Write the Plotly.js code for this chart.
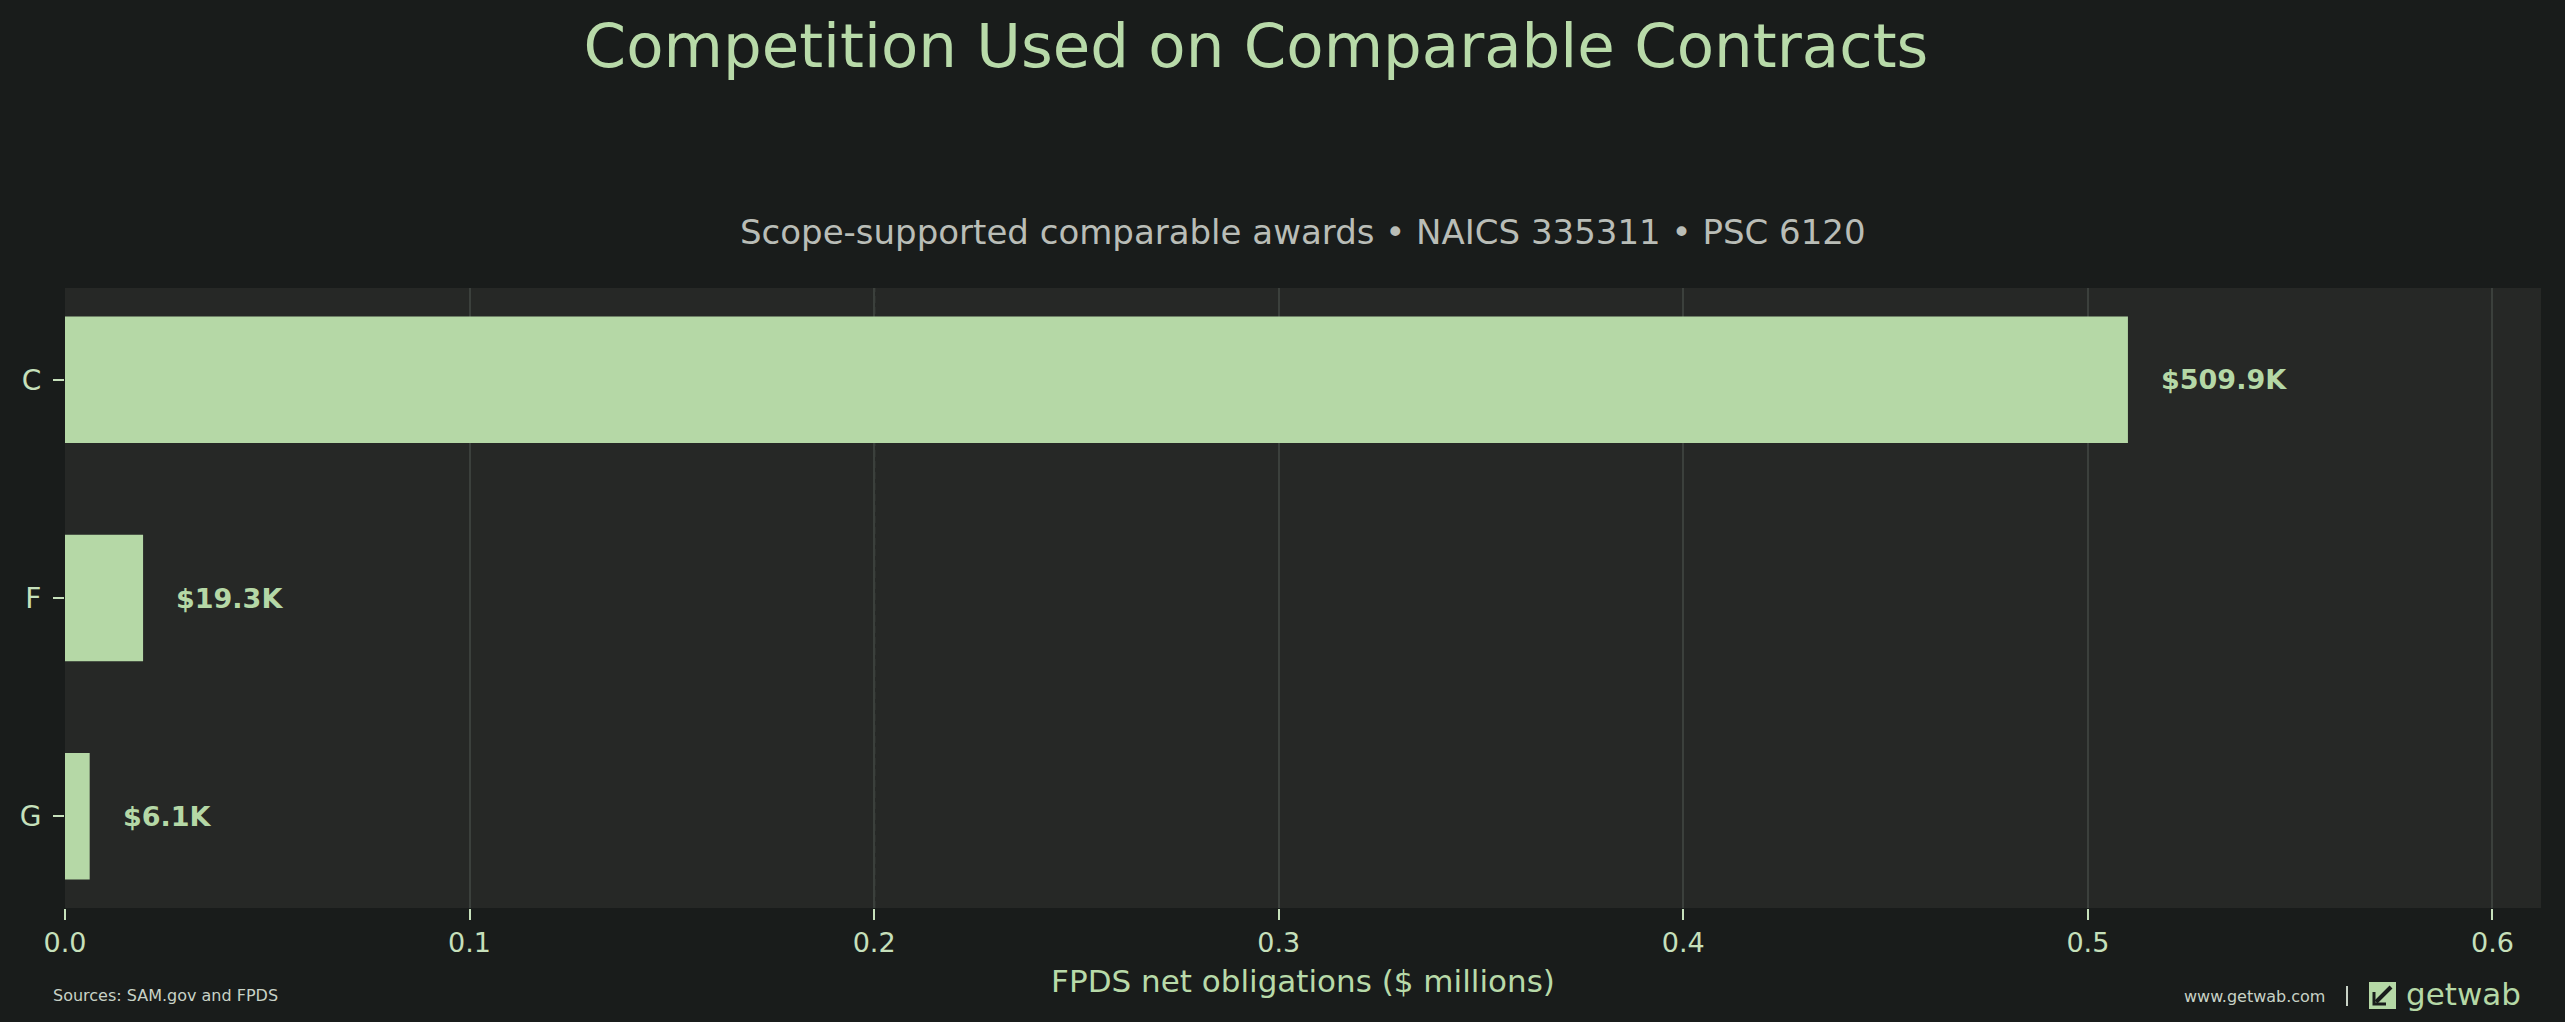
<!DOCTYPE html>
<html>
<head>
<meta charset="utf-8">
<script src="https://cdn.plot.ly/plotly-3.0.1.min.js"></script>
<style>
  html, body { margin: 0; padding: 0; background: #191c1b; }
  #plot { width: 2565px; height: 1022px; }
</style>
</head>
<body>
<div id="plot"></div>
<script>
// competition codes and net obligations ($ millions)
const categories = ["C", "F", "G"];
const obligations = [0.5099, 0.0193, 0.0061];
const xTicks = [0, 0.1, 0.2, 0.3, 0.4, 0.5, 0.6];
const refLineX = 0.2;

const W = 2565, H = 1022;
const M = { l: 65, r: 24, t: 288, b: 114 };

const green = "#b5d8a6";
const tickGreen = "#c6e0bb";
const font = "DejaVu Sans";

// pixel -> paper helpers for footer bits
function px(x) { return (x - M.l) / (W - M.l - M.r); }
function py(y) { return (H - M.b - y) / (H - M.t - M.b); }

function fmtK(v) {
  return "$" + (v * 1000).toFixed(1) + "K";
}

var bars = {
  type: "bar",
  orientation: "h",
  x: obligations,
  y: categories,
  width: 0.58,
  marker: { color: green, line: { width: 0 } },
  hoverinfo: "x+y"
};

var annotations = [];
for (let i = 0; i < categories.length; i++) {
  annotations.push({
    x: obligations[i], y: categories[i], xref: "x", yref: "y",
    text: "<b>" + fmtK(obligations[i]) + "</b>",
    showarrow: false, xanchor: "left", yanchor: "middle", xshift: 31,
    font: { family: font, size: 27, color: green }
  });
}

// subtitle
annotations.push({
  xref: "paper", yref: "paper", x: 0.5, y: py(232),
  text: "Scope-supported comparable awards \u2022 NAICS 335311 \u2022 PSC 6120",
  showarrow: false, xanchor: "center", yanchor: "middle",
  font: { family: font, size: 34, color: "#b9bdb7" }
});
// footer
annotations.push({
  xref: "paper", yref: "paper", x: px(51), y: py(995),
  text: "Sources: SAM.gov and FPDS", showarrow: false,
  xanchor: "left", yanchor: "middle",
  font: { family: font, size: 16, color: "#c8d2c6" }
});
annotations.push({
  xref: "paper", yref: "paper", x: px(2182), y: py(996),
  text: "www.getwab.com", showarrow: false,
  xanchor: "left", yanchor: "middle",
  font: { family: font, size: 16, color: "#c8d2c6" }
});
annotations.push({
  xref: "paper", yref: "paper", x: px(2404), y: py(994),
  text: "getwab", showarrow: false,
  xanchor: "left", yanchor: "middle",
  font: { family: font, size: 31, color: green }
});

var shapes = [
  {
    type: "line", xref: "x", yref: "paper", x0: refLineX, x1: refLineX, y0: 0, y1: 1,
    line: { color: "#565e57", width: 2, dash: "7px,4px" }, layer: "between"
  },
  // separator
  {
    type: "line", xref: "paper", yref: "paper",
    x0: px(2347), x1: px(2347), y0: py(986), y1: py(1006),
    line: { color: "#c8d2c6", width: 2 }
  },
  // logo square
  {
    type: "rect", xref: "paper", yref: "paper",
    x0: px(2369), x1: px(2396), y0: py(1009), y1: py(982),
    fillcolor: green, line: { width: 0 }
  },
  {
    type: "line", xref: "paper", yref: "paper",
    x0: px(2391), x1: px(2376), y0: py(987), y1: py(1002),
    line: { color: "#191c1b", width: 4 }
  },
  {
    type: "path", xref: "paper", yref: "paper",
    path: "M " + px(2374) + "," + py(992) + " L " + px(2374) + "," + py(1004) +
          " L " + px(2386) + "," + py(1004),
    line: { color: "#191c1b", width: 3 }
  }
];

var layout = {
  width: W, height: H,
  margin: M,
  paper_bgcolor: "#191c1b",
  plot_bgcolor: "#262826",
  showlegend: false,
  font: { family: font, color: tickGreen },
  title: {
    text: "Competition Used on Comparable Contracts",
    x: 1256 / W, xref: "container", xanchor: "center",
    y: 1 - 46 / H, yref: "container", yanchor: "middle",
    font: { family: font, size: 61, color: "#b8daa9" }
  },
  xaxis: {
    range: [0, 0.612],
    tickvals: xTicks,
    tickformat: ".1f",
    ticks: "outside", ticklen: 11, tickwidth: 2, tickcolor: tickGreen,
    tickfont: { family: font, size: 27, color: tickGreen },
    showgrid: true, gridcolor: "#3b403c", gridwidth: 2,
    zeroline: false, showline: false,
    title: {
      text: "FPDS net obligations ($ millions)",
      standoff: 12,
      font: { family: font, size: 31, color: "#b8daa9" }
    }
  },
  yaxis: {
    type: "category",
    categoryorder: "array", categoryarray: categories,
    range: [2.42, -0.42],
    ticks: "outside", ticklen: 11, tickwidth: 2, tickcolor: tickGreen,
    ticklabelstandoff: 6,
    tickfont: { family: font, size: 28, color: tickGreen },
    showgrid: false, zeroline: false, showline: false
  },
  annotations: annotations,
  shapes: shapes
};

Plotly.newPlot("plot", [bars], layout, { displayModeBar: false, staticPlot: true });
</script>
</body>
</html>
